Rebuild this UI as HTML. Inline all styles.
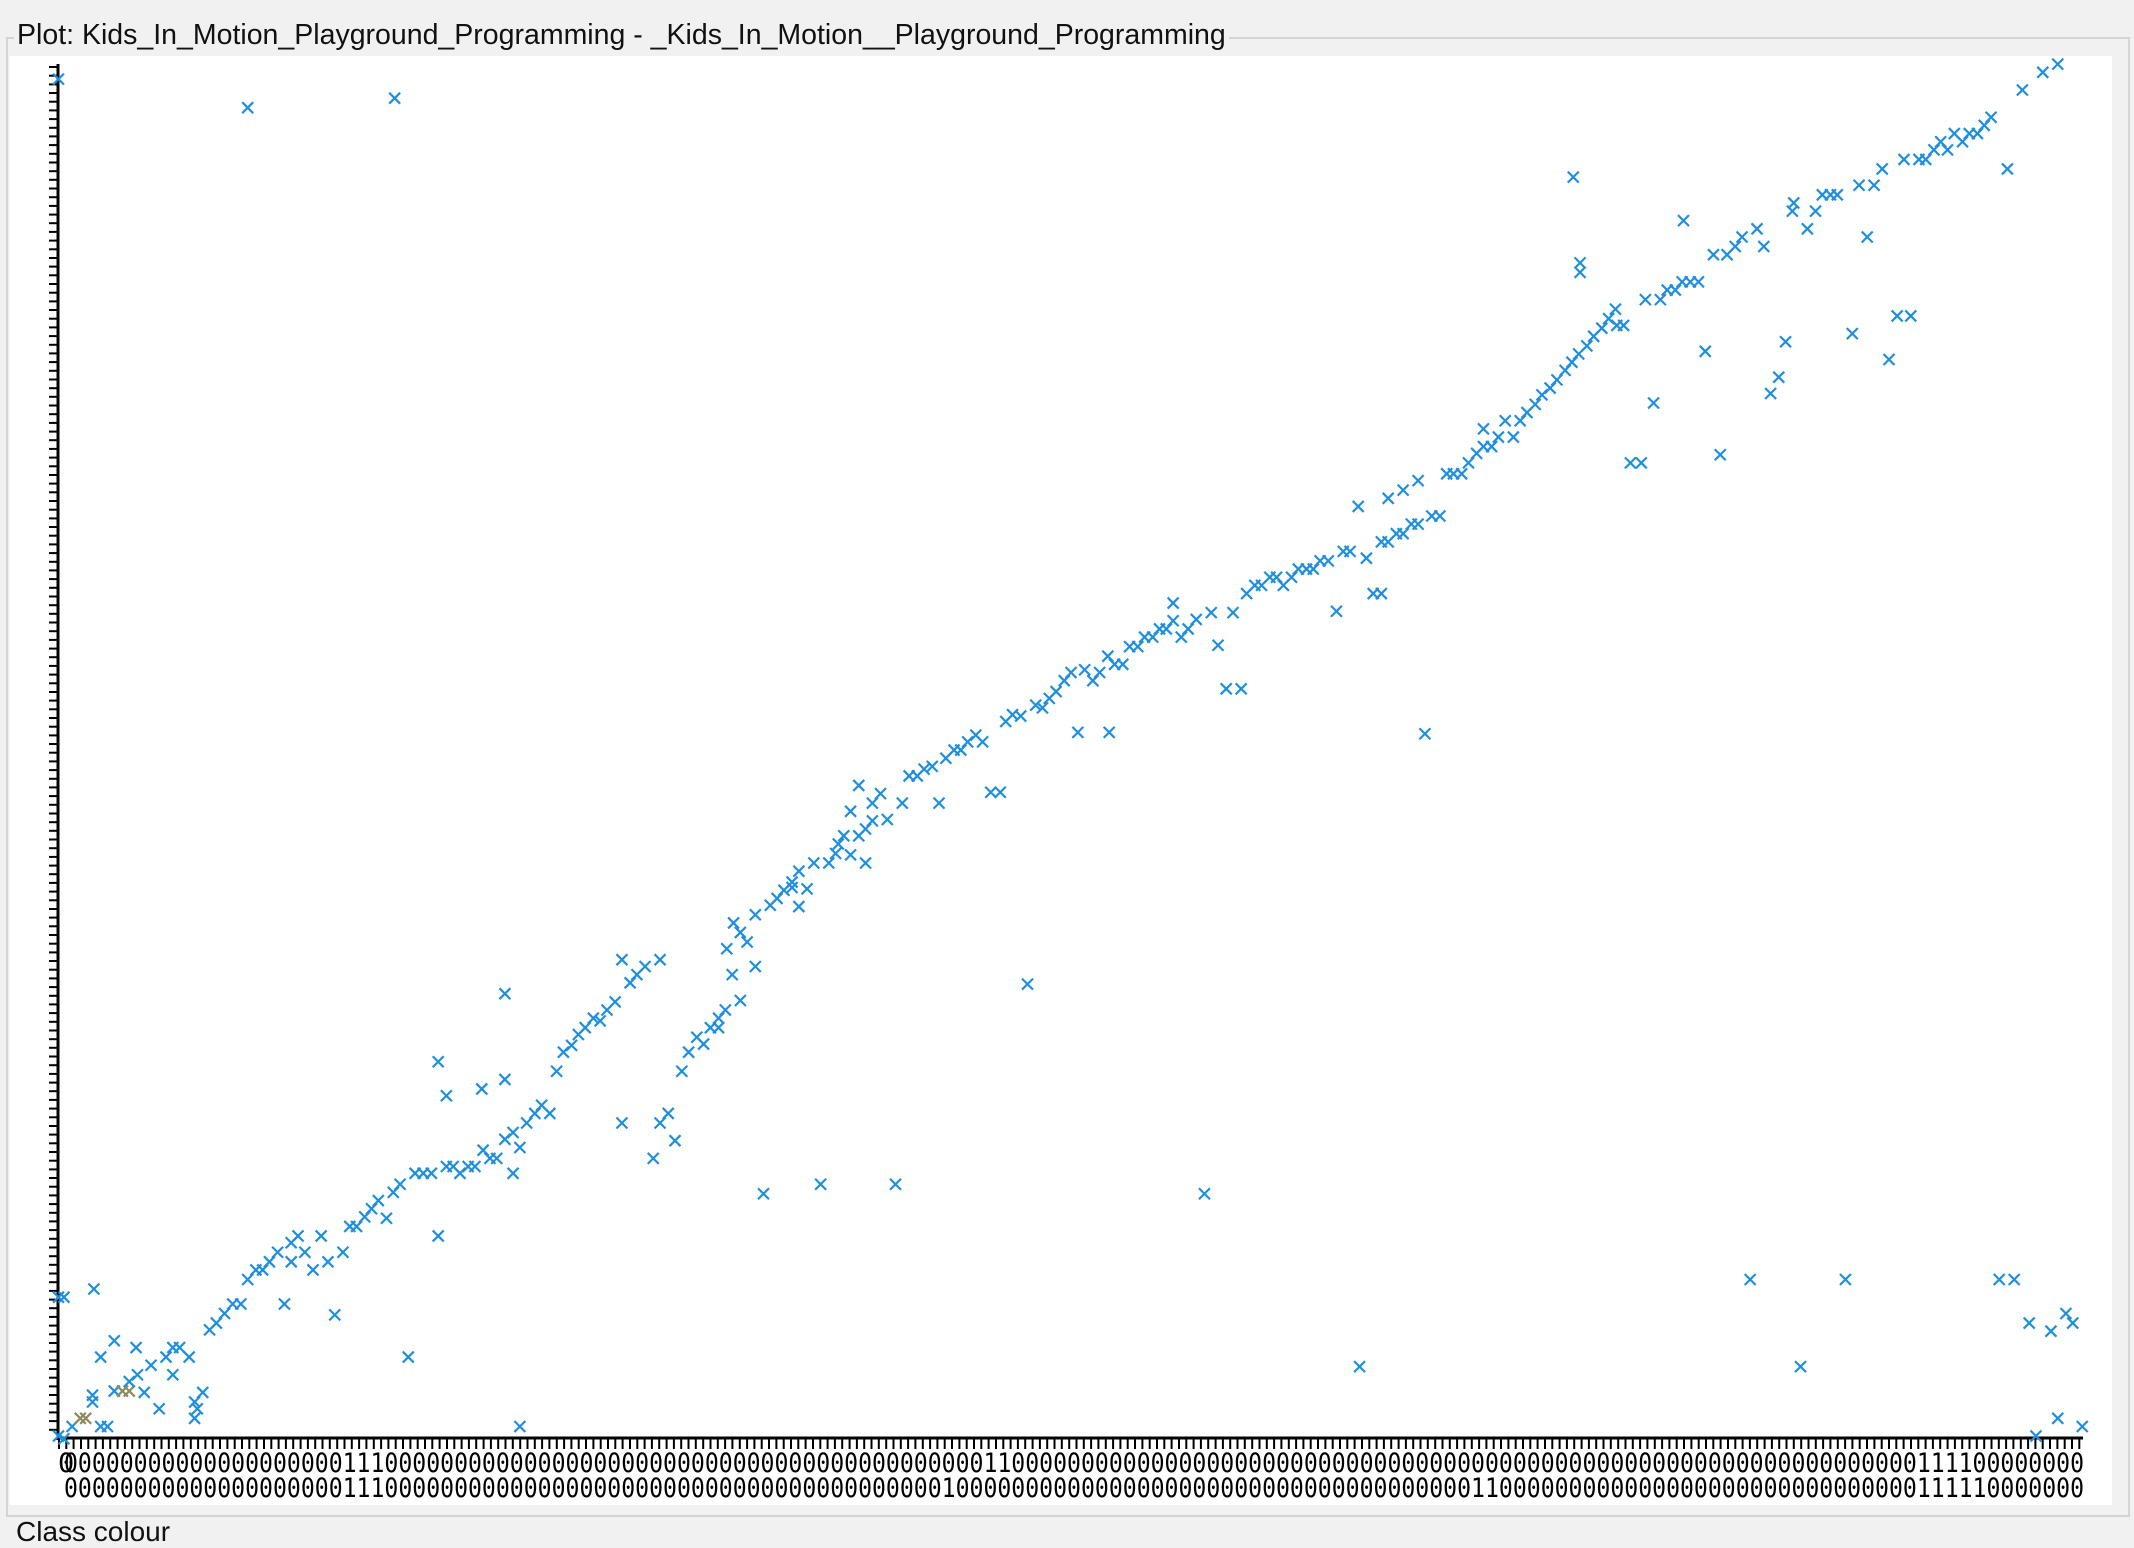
<!DOCTYPE html>
<html><head><meta charset="utf-8">
<style>
html,body{margin:0;padding:0;width:2134px;height:1530px;overflow:hidden;background:#f1f1f1;font-family:"Liberation Sans",sans-serif;}
#frame{position:absolute;left:6px;top:37px;width:2124px;height:1480px;border:2px solid #d4d4d4;box-sizing:border-box;}
#panel{position:absolute;left:10px;top:56px;width:2102px;height:1449px;background:#fff;}
#title{position:absolute;left:14px;top:18px;font-size:28.5px;color:#111;background:#f1f1f1;padding:0 3px;line-height:34px;}
#cls{position:absolute;left:16px;top:1516px;font-size:28px;color:#111;}
svg{position:absolute;left:0;top:0;}
</style></head><body>
<div id="frame"></div>
<div id="panel"></div>
<div id="title">Plot: Kids_In_Motion_Playground_Programming - _Kids_In_Motion__Playground_Programming</div>
<div id="cls">Class colour</div>
<svg id="chart" width="2134" height="1530"></svg>
<script>
const ptsX = [43,43,47,43,47,53,59,63,68,68,69,74,74,79,84,84,90,95,95,100,101,106,111,117,122,127,127,132,139,143,143,145,149,154,159,165,171,177,182,182,188,193,198,204,209,214,214,219,224,230,236,241,246,252,257,262,268,273,278,284,289,290,294,300,305,311,317,322,322,328,328,333,338,344,349,354,355,360,365,371,371,371,377,377,382,382,387,393,398,404,409,414,420,425,430,436,441,446,452,457,457,463,468,474,480,485,485,491,496,501,506,512,517,522,528,528,533,534,538,539,544,544,549,555,555,561,566,571,576,582,582,587,587,593,598,603,609,614,616,620,625,625,631,631,636,636,641,641,647,652,658,663,668,674,679,685,690,695,701,706,711,717,722,728,735,739,744,750,755,761,766,771,776,782,787,792,797,803,808,814,815,819,825,830,836,841,847,852,857,862,862,868,873,879,885,890,895,901,912,906,916,922,927,933,938,943,949,954,960,965,970,976,982,987,992,998,999,1004,1009,1015,1015,1020,1020,1026,1031,1031,1037,1042,1042,1047,1052,1058,1063,1068,1074,1079,1085,1090,1090,1096,1101,1106,1112,1117,1122,1128,1133,1139,1144,1150,1155,1156,1160,1161,1161,1166,1171,1177,1182,1187,1188,1193,1198,1206,1209,1215,1220,1225,1231,1236,1237,1242,1248,1253,1259,1264,1269,1275,1280,1286,1291,1296,1301,1307,1312,1317,1318,1323,1328,1334,1339,1345,1350,1356,1361,1366,1372,1377,1383,1388,1394,1399,1404,1410,1415,1421,1426,1431,1436,1442,1447,1453,1458,1463,1469,1475,1480,1486,1491,1496,1501,1507,1512,1512,1518,1523,1530];
const ptsY = [58,953,953,1055,1057,1048,1042,1042,1030,1025,947,997,1048,1048,1022,985,1022,1022,1015,990,1010,1023,1003,1035,997,990,1010,990,997,1030,1042,1035,1023,977,972,965,958,958,79,940,933,933,927,920,958,913,927,908,920,933,908,927,966,920,901,901,894,888,882,895,876,72,870,997,862,862,862,908,780,805,857,857,862,857,857,800,845,851,851,793,730,837,862,832,843,1048,825,818,812,818,787,773,768,760,755,748,750,742,736,705,825,722,716,710,851,705,825,818,838,787,773,762,767,755,748,755,742,697,716,678,735,685,692,710,672,877,665,660,654,652,648,666,640,653,634,870,634,627,620,614,596,628,577,614,634,609,603,590,583,602,870,590,570,570,565,563,590,557,551,551,545,540,545,582,582,530,525,526,723,518,520,513,508,500,494,538,492,500,494,482,538,488,488,475,475,468,468,462,462,443,456,468,462,455,877,450,474,506,506,450,436,430,430,424,424,430,424,418,418,418,412,412,449,405,405,372,1004,410,436,436,398,398,366,392,392,360,385,385,353,539,379,379,348,348,348,340,333,328,315,328,321,309,321,309,303,297,290,285,279,272,266,130,260,193,200,254,247,241,234,227,239,239,340,340,220,296,220,213,213,207,162,207,207,258,187,334,187,181,174,940,168,181,289,277,251,155,149,1004,168,155,143,143,143,940,245,136,174,136,124,264,232,117,232,117,117,110,104,110,98,104,98,98,92,86,940,124,940,66,972,1055,53,978,47,1042,965,972,1048];
const brownIdx = [6,7,16,17];
const row1Ones = [20,21,22,66,67,133,134,135,136];
const row2Ones = [20,21,22,63,101,102,133,134,135,136,137];
const S = 2134/1568;
function xScale(v){ return 58.5 + (v-43)*S; }
function yScale(v){ return 1436 - (1055-v)*S; }
const svg = document.getElementById('chart');
const NS = 'http://www.w3.org/2000/svg';
function mk(tag, attrs){ const e=document.createElementNS(NS,tag); for(const k in attrs) e.setAttribute(k,attrs[k]); svg.appendChild(e); return e; }
let ya = mk('line',{x1:58,y1:64,x2:58,y2:1440,stroke:'#000','stroke-width':3});


let xa = mk('line',{x1:57,y1:1438,x2:2083,y2:1438,stroke:'#000','stroke-width':3});


for(let y=67; y<1438; y+=8.68){
  let t = mk('line',{x1:49,y1:y.toFixed(1),x2:58,y2:y.toFixed(1),stroke:'#000','stroke-width':2});
  
  
}
for(let x=59; x<=2083; x+=7.32){
  let t = mk('line',{x1:x.toFixed(1),y1:1438,x2:x.toFixed(1),y2:1449,stroke:'#000','stroke-width':2});
  
  
}
function rowStr(ones){ let s=''; for(let i=0;i<145;i++) s += ones.includes(i)?'1':'0'; return s; }
[[rowStr(row1Ones),1472],[rowStr(row2Ones),1497]].forEach((r,k)=>{
  let t = mk('text',{x:64,y:r[1],'font-family':'"DejaVu Sans Mono","Liberation Mono",monospace','font-size':27,'textLength':2020,'lengthAdjust':'spacingAndGlyphs',fill:'#000'});
  t.textContent = r[0];
  
  
});
let ol = mk('text',{x:58,y:1472,'font-family':'"DejaVu Sans Mono",monospace','font-size':27,fill:'#000'});
ol.textContent='0';


for(let i=0;i<ptsX.length;i++){
  const cx=xScale(ptsX[i]), cy=yScale(ptsY[i]), r=5.5;
  const col = brownIdx.includes(i)?'#8d8a5e':'#1f8fdc';
  const p = mk('path',{d:`M${cx-r},${cy-r}L${cx+r},${cy+r}M${cx-r},${cy+r}L${cx+r},${cy-r}`,stroke:col,'stroke-width':2.2,fill:'none'});
  
  
}
</script>
</body></html>
